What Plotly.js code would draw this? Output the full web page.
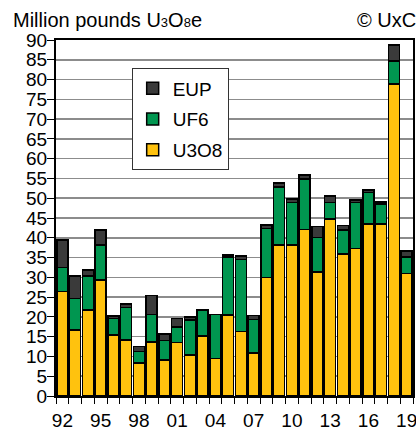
<!DOCTYPE html>
<html>
<head>
<meta charset="utf-8">
<script src="https://cdn.plot.ly/plotly-3.0.1.min.js"></script>
<style>html,body{margin:0;padding:0;background:#fff;}#chart{width:416px;height:430px;}</style>
</head>
<body>
<div id="chart"></div>
<script>
const years = [1992,1993,1994,1995,1996,1997,1998,1999,2000,2001,2002,2003,2004,2005,2006,2007,2008,2009,2010,2011,2012,2013,2014,2015,2016,2017,2018,2019];
const u3o8 = [26.4,16.7,21.7,29.3,15.4,14.2,8.3,13.7,9.1,13.5,10.4,15.2,9.5,20.5,16.3,10.9,30.0,38.2,38.2,42.1,31.4,44.7,35.9,37.3,43.5,43.5,78.9,31.0];
const uf6 = [6.1,8.0,8.6,8.9,4.2,8.2,2.9,6.9,4.9,3.9,8.8,6.4,11.1,14.7,18.2,8.5,12.4,14.7,10.7,12.7,8.7,4.2,6.1,11.6,7.9,5.0,5.8,4.2];
const eup = [6.9,5.7,1.6,3.8,0.6,0.8,1.3,4.8,1.7,2.2,0.8,0.3,0.05,0.4,0.9,0.9,0.8,1.0,0.9,1.1,2.7,1.7,1.1,0.6,0.7,0.5,4.1,1.4];
const tickYears = [1992,1995,1998,2001,2004,2007,2010,2013,2016,2019];
const tickLabels = ['92','95','98','01','04','07','10','13','16','19'];

const font = 'Liberation Sans, Arial, sans-serif';
const outline = {color:'#000', width:1.5};
const traces = [
  {type:'bar', name:'U3O8', x:years, y:u3o8, marker:{color:'#FFC20E', line:outline}, legendgroup:'a', legendrank:3},
  {type:'bar', name:'UF6', x:years, y:uf6, marker:{color:'#009650', line:outline}, legendgroup:'b', legendrank:2},
  {type:'bar', name:'EUP', x:years, y:eup, marker:{color:'#3a3a3a', line:outline}, legendgroup:'c', legendrank:1}
];
const layout = {
  width:416, height:430,
  margin:{l:56, r:3, t:40, b:34},
  barmode:'stack', bargap:0.12,
  paper_bgcolor:'#fff', plot_bgcolor:'#fff',
  font:{family:font, color:'#000', size:19},
  showlegend:true,
  legend:{x:0.212, y:0.92, xanchor:'left', yanchor:'top', traceorder:'grouped', tracegroupgap:3,
          bordercolor:'#333', borderwidth:1, bgcolor:'#fff', font:{size:19, family:font}},
  xaxis:{type:'linear', range:[1991.5,2019.5], tickmode:'array', tickvals:tickYears, ticktext:tickLabels,
         ticks:'', showgrid:false, showline:true, linecolor:'#000', linewidth:2, mirror:true,
         tickfont:{size:19, family:font}, zeroline:false, ticklabeloverflow:'allow', ticklabelstandoff:6,
         minor:{tickmode:'linear', tick0:1991.5, dtick:1, ticks:'outside', ticklen:6, tickcolor:'#000', tickwidth:1, showgrid:false}},
  yaxis:{range:[0,90], dtick:5, tick0:0, ticks:'outside', ticklen:7, tickcolor:'#000', tickwidth:1,
         showgrid:true, gridcolor:'#8c8c8c', gridwidth:1.5, showline:true, linecolor:'#000', linewidth:2, mirror:true,
         zeroline:false, tickfont:{size:19, family:font}, ticklabelstandoff:-4},
  annotations:[
    {xref:'paper', yref:'paper', x:-0.126, y:1.055, xanchor:'left', yanchor:'middle', showarrow:false,
     text:"Million pounds U<span style='font-size:13px'>3</span>O<span style='font-size:13px'>8</span>e", font:{size:20, family:font}},
    {xref:'paper', yref:'paper', x:0.837, y:1.055, xanchor:'left', yanchor:'middle', showarrow:false,
     text:'© UxC', font:{size:20, family:font}}
  ]
};
Plotly.newPlot('chart', traces, layout, {displayModeBar:false, staticPlot:true});
</script>
</body>
</html>
